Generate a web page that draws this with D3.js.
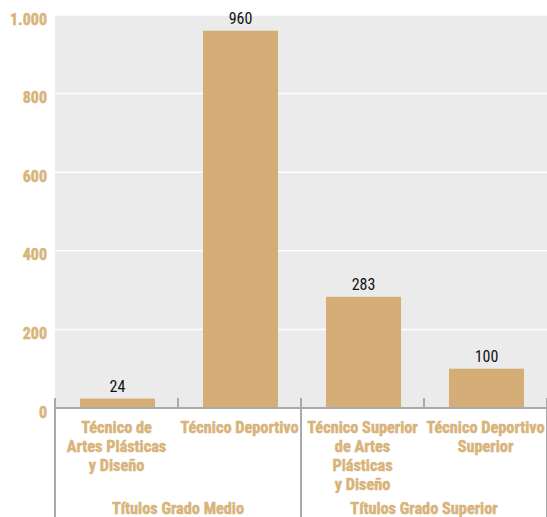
<!DOCTYPE html>
<html><head><meta charset="utf-8">
<script src="https://cdn.jsdelivr.net/npm/d3@7/dist/d3.min.js"></script>
<style>body{margin:0;background:#fff}</style>
</head><body>
<script>
const categories = ["Técnico de\nArtes Plásticas\ny Diseño", "Técnico Deportivo", "Técnico Superior\nde Artes\nPlásticas\ny Diseño", "Técnico Deportivo\nSuperior"];
const values = [24, 960, 283, 100];
const groups = ["Títulos Grado Medio", "Títulos Grado Superior"];
const groupOf = [0, 0, 1, 1];
const yTicks = [0, 200, 400, 600, 800, 1000];
const yTickLabels = ["0", "200", "400", "600", "800", "1.000"];

const W = 547, H = 517;
const m = {left: 55, right: 0, top: 15, bottom: 109};
const tan = "#d4ae76", textTan = "#d8b47b";
const font = "'Liberation Sans Narrow','Roboto Condensed','Arial Narrow',sans-serif";

const svg = d3.select("body").append("svg").attr("width", W).attr("height", H);
const x = d3.scaleBand().domain(d3.range(categories.length)).range([m.left, W - m.right]).paddingInner(0.39).paddingOuter(0.195);
const xs = d3.scaleBand().domain(d3.range(categories.length)).range([m.left, W - m.right]);
const y = d3.scaleLinear().domain([0, 1000]).range([H - m.bottom, m.top]);

svg.append("rect").attr("x", m.left).attr("y", m.top).attr("width", W - m.left - m.right).attr("height", y(0) - m.top).attr("fill", "#ebebeb");

svg.append("g").selectAll("line").data(yTicks.slice(1)).join("line")
  .attr("x1", m.left).attr("x2", W - m.right).attr("y1", d => y(d)).attr("y2", d => y(d))
  .attr("stroke", "#fff").attr("stroke-width", 1.5);

svg.append("g").selectAll("text").data(yTicks).join("text")
  .attr("x", 47).attr("y", d => y(d) + 4).attr("dy", "0.35em")
  .attr("text-anchor", "end").attr("fill", textTan)
  .attr("stroke", textTan).attr("stroke-width", 0.5)
  .style("font-family", font).style("font-weight", "bold").style("font-size", "16px")
  .text((d, i) => yTickLabels[i]);

svg.append("g").selectAll("rect").data(values).join("rect")
  .attr("x", (d, i) => x(i) + 1).attr("width", x.bandwidth())
  .attr("y", d => y(d)).attr("height", d => y(0) - y(d)).attr("fill", tan);

svg.append("g").selectAll("text").data(values).join("text")
  .attr("x", (d, i) => x(i) + 1 + x.bandwidth() / 2).attr("y", d => y(d) - 7)
  .attr("text-anchor", "middle").attr("fill", "#111")
  .style("font-family", font).style("font-size", "16px")
  .text(d => d);

// axis line
svg.append("line").attr("x1", m.left).attr("x2", W).attr("y1", y(0)).attr("y2", y(0))
  .attr("stroke", "#aaa").attr("stroke-width", 2);

// ticks between categories; group separators extend down
const bounds = d3.range(categories.length + 1).map(i => m.left + i * xs.step());
bounds.forEach((bx, i) => {
  const isSep = i === 0 || i === categories.length || groupOf[i] !== groupOf[i - 1];
  svg.append("line").attr("x1", bx).attr("x2", bx)
    .attr("y1", y(0) - 10).attr("y2", isSep ? H : y(0))
    .attr("stroke", "#aaa").attr("stroke-width", 2);
});

// category labels
const cl = svg.append("g").selectAll("text").data(categories).join("text")
  .attr("x", (d, i) => xs(i) + xs.bandwidth() / 2).attr("y", 433)
  .attr("text-anchor", "middle").attr("fill", textTan)
  .attr("stroke", textTan).attr("stroke-width", 0.5)
  .style("font-family", font).style("font-weight", "bold").style("font-size", "16.3px");
cl.each(function(d) {
  const t = d3.select(this);
  d.split("\n").forEach((line, j) => {
    t.append("tspan").attr("x", t.attr("x")).attr("y", 433 + j * 19).text(line);
  });
});

// group labels
svg.append("g").selectAll("text").data(groups).join("text")
  .attr("x", (d, gi) => {
    const idx = d3.range(categories.length).filter(i => groupOf[i] === gi);
    return (xs(idx[0]) + xs(idx[idx.length - 1]) + xs.bandwidth()) / 2;
  })
  .attr("y", 514).attr("text-anchor", "middle").attr("fill", textTan)
  .attr("stroke", textTan).attr("stroke-width", 0.5)
  .style("font-family", font).style("font-weight", "bold").style("font-size", "16.3px")
  .text(d => d);
</script>
</body></html>
